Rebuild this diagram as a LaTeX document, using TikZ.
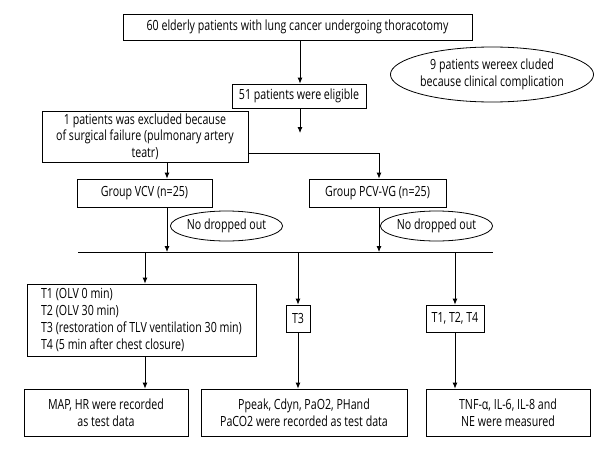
\documentclass[tikz,border=0pt]{standalone}
\usepackage{fontspec}
\setmainfont{Open Sans}[FakeStretch=0.76]
\usetikzlibrary{shapes.geometric,arrows.meta}

\begin{document}
\begin{tikzpicture}[x=1pt, y=-1pt, font=\fontsize{14}{16.7}\selectfont,
  box/.style={draw, line width=0.8pt, inner sep=0pt, align=center},
  oval/.style={draw, ellipse, line width=0.8pt, inner sep=0pt, align=center},
  arr/.style={-{Latex[length=6pt,width=5pt]}, line width=0.8pt}]
\useasboundingbox (0,0) rectangle (615,450);
%boxes
\node[box, minimum width=349pt, minimum height=26pt] (total) at (297.5,27)
  {60 elderly patients with lung cancer undergoing thoracotomy};
\node[box, minimum width=134pt, minimum height=24pt] (elig) at (299,96)
  {51 patients were eligible};
\node[oval, minimum width=200pt, minimum height=55pt] (excl9) at (492,74.5)
  {9 patients wereex cluded\\because clinical complication};
\node[box, minimum width=206pt, minimum height=51pt] (excl1) at (145,136.5)
  {1 patients was excluded because\\of surgical failure (pulmonary artery\\teatr)};
\node[box, minimum width=135pt, minimum height=28pt] (vcv) at (144.5,193)
  {Group VCV (n=25)};
\node[box, minimum width=137pt, minimum height=28pt] (pcv) at (377.5,193)
  {Group PCV-VG (n=25)};
\node[oval, minimum width=101pt, minimum height=30pt] (drop1) at (226.5,226)
  {No dropped out};
\node[oval, minimum width=101pt, minimum height=30pt] (drop2) at (436.5,226)
  {No dropped out};
\node[box, minimum width=229pt, minimum height=72pt, align=left] (times) at (141.5,320)
  {T1 (OLV 0 min)\\T2 (OLV 30 min)\\T3 (restoration of TLV ventilation 30 min)\\T4 (5 min after chest closure)};
\node[box, minimum width=24pt, minimum height=27pt] (t3) at (298,318.5) {T3};
\node[box, minimum width=58pt, minimum height=27pt] (t124) at (455,318.5) {T1, T2, T4};
\node[box, minimum width=164pt, minimum height=47pt] (rec1) at (106,412.5)
  {MAP, HR were recorded\\as test data};
\node[box, minimum width=206pt, minimum height=47pt] (rec2) at (304,412.5)
  {Ppeak, Cdyn, PaO2, PHand\\PaCO2 were recorded as test data};
\node[box, minimum width=164pt, minimum height=47pt] (rec3) at (508,412.5)
  {TNF-α, IL-6, IL-8 and\\NE were measured};
%coordinates
\coordinate (free) at (300,133);
\coordinate (lineL) at (78,252);
\coordinate (lineR) at (493,252);
\coordinate (colA) at (167,252);
\coordinate (colB) at (379,252);
\coordinate (outA) at (145,252);
\coordinate (outB) at (298,252);
\coordinate (outC) at (455,252);
%arrows
\draw[arr] (total.south -| free) -- (elig.north -| free);
\draw[arr] (elig.south -| free) -- (free);
\draw[arr] (excl1.south -| colA) -- (vcv.north -| colA);
\draw[arr] ([yshift=9pt]excl1.south east) -| (pcv.north -| colB);
\draw[arr] (vcv.south -| colA) -- (colA);
\draw[arr] (pcv.south -| colB) -- (colB);
\draw[line width=0.8pt] (lineL) -- (lineR);
\foreach \c/\m/\r in {outA/times/rec1, outB/t3/rec2, outC/t124/rec3}
{
\draw[arr] (\c) -- (\m.north -| \c);
\draw[arr] (\m.south -| \c) -- (\r.north -| \c);
}
\end{tikzpicture}
\end{document}
